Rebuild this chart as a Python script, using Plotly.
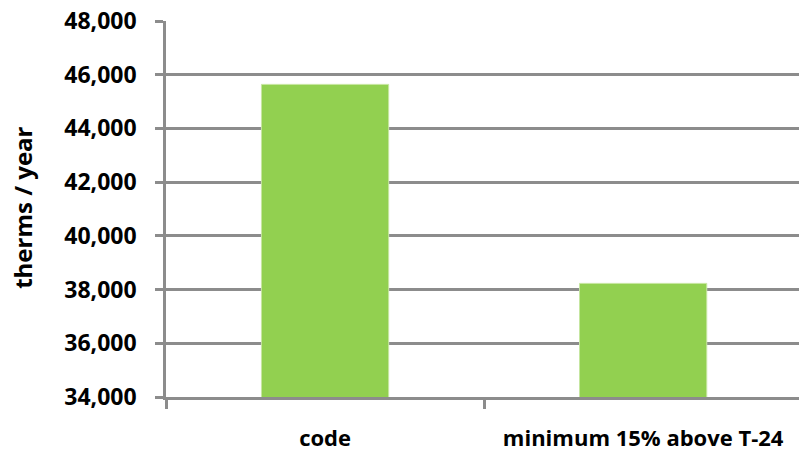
import plotly.graph_objects as go

categories = ["code", "minimum 15% above T-24"]
values = [45640, 38230]
tick_vals = [34000, 36000, 38000, 40000, 42000, 44000, 46000, 48000]
tick_text = ["34,000", "36,000", "38,000", "40,000", "42,000", "44,000", "46,000", "48,000"]
y_title = "therms / year"

fig = go.Figure(go.Bar(
    x=categories, y=values, width=0.40,
    marker=dict(color="#92d050", line=dict(color="#c6e6a0", width=1)),
))

fam = "Open Sans, Lato, Liberation Sans, sans-serif"
fig.update_layout(
    width=799, height=453,
    margin=dict(l=166, r=0, t=21, b=56),
    paper_bgcolor="white", plot_bgcolor="white",
    showlegend=False,
    font=dict(family=fam, size=21, color="#000000"),
)
fig.update_yaxes(
    range=[34000, 48000], tickvals=tick_vals, ticktext=tick_text,
    showgrid=True, gridcolor="#8c8c8c", gridwidth=2.5,
    showline=True, linecolor="#8c8c8c", linewidth=2.5,
    ticks="outside", ticklen=8, tickwidth=2.5, tickcolor="#8c8c8c",
    ticklabelstandoff=14,
    tickfont=dict(family=fam, size=23, weight="bold", color="#000000"),
    zeroline=False,
)
fig.update_xaxes(
    range=[-0.5, 1.49], type="category",
    showline=True, linecolor="#8c8c8c", linewidth=2.5,
    ticks="outside", ticklen=9, tickwidth=2.5, tickcolor="#8c8c8c",
    tickson="boundaries",
    ticklabelstandoff=20,
    tickfont=dict(family=fam, size=22, weight="bold", color="#000000"),
    showgrid=False,
)
fig.add_annotation(
    text=y_title, textangle=-90, showarrow=False,
    xref="paper", yref="paper", x=-(166 - 23) / 633, y=0.503,
    xanchor="center", yanchor="middle",
    font=dict(family=fam, size=24, weight="bold", color="#000000"),
)
fig.write_html("out.html")
